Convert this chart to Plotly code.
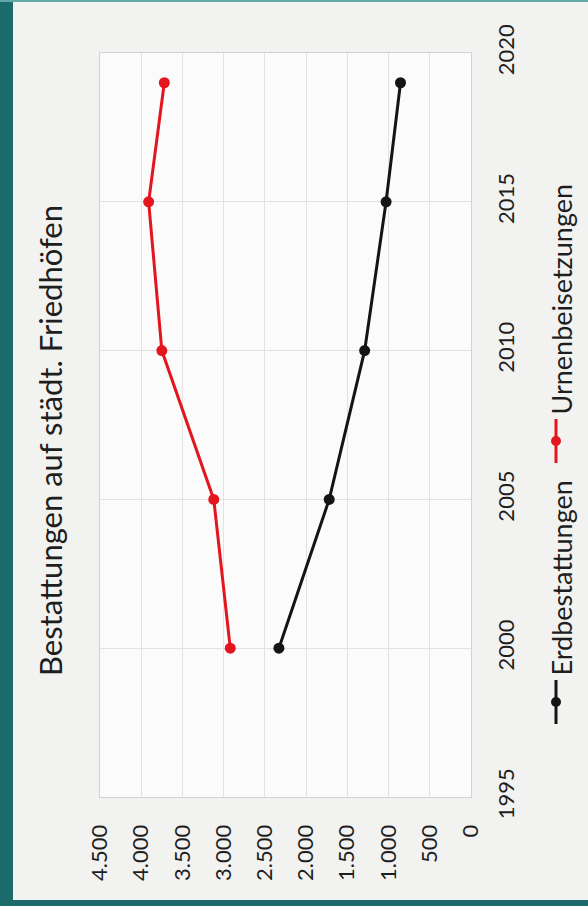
import plotly.graph_objects as go

# ---- data ----
years = [2000, 2005, 2010, 2015, 2019]
erdbestattungen = [2330, 1720, 1290, 1030, 855]
urnenbeisetzungen = [2920, 3120, 3750, 3910, 3720]
series_names = ["Erdbestattungen", "Urnenbeisetzungen"]
value_ticks = [0, 500, 1000, 1500, 2000, 2500, 3000, 3500, 4000, 4500]
year_ticks = [1995, 2000, 2005, 2010, 2015, 2020]
title_text = "Bestattungen auf städt. Friedhöfen"

# ---- geometry helpers (pixel -> paper) ----
W, H = 588, 906
ML, MR, MT, MB = 100, 117, 53, 109
PW, PH = W - ML - MR, H - MT - MB


def px_x(x):
    return (x - ML) / PW


def px_y(y):
    return 1 - (y - MT) / PH


FONT = "Lato, 'Open Sans', sans-serif"
TXT = "#1e1e1e"
RED = "#e3161f"
BLK = "#141414"

fig = go.Figure()
fig.add_trace(go.Scatter(
    x=erdbestattungen, y=years, mode="lines+markers", name=series_names[0],
    line=dict(color=BLK, width=3), marker=dict(color=BLK, size=11),
    showlegend=False))
fig.add_trace(go.Scatter(
    x=urnenbeisetzungen, y=years, mode="lines+markers", name=series_names[1],
    line=dict(color=RED, width=3), marker=dict(color=RED, size=11),
    showlegend=False))

shapes = [
    # photo border (teal)
    dict(type="rect", xref="paper", yref="paper", x0=px_x(0), x1=px_x(13),
         y0=px_y(H), y1=px_y(0), fillcolor="#1d6a6d", line=dict(width=0), layer="below"),
    dict(type="rect", xref="paper", yref="paper", x0=px_x(0), x1=px_x(W),
         y0=px_y(H), y1=px_y(900), fillcolor="#1d6a6d", line=dict(width=0), layer="below"),
    dict(type="rect", xref="paper", yref="paper", x0=px_x(0), x1=px_x(W),
         y0=px_y(2), y1=px_y(0), fillcolor="#5fa9a8", line=dict(width=0), layer="below"),
]

annotations = [
    dict(text=title_text, x=px_x(50), y=px_y(441), xref="paper", yref="paper",
         xanchor="center", yanchor="middle", textangle=-90, showarrow=False,
         font=dict(family=FONT, size=31, color=TXT)),
]

legend_items = [
    (series_names[0], BLK, 702),
    (series_names[1], RED, 441),
]
for name, col, ym in legend_items:
    shapes.append(dict(type="line", xref="paper", yref="paper",
                       x0=px_x(556), x1=px_x(556), y0=px_y(ym + 22), y1=px_y(ym - 22),
                       line=dict(color=col, width=3)))
    shapes.append(dict(type="circle", xref="paper", yref="paper",
                       xsizemode="pixel", ysizemode="pixel",
                       xanchor=px_x(556), yanchor=px_y(ym),
                       x0=-5, x1=5, y0=-5, y1=5, fillcolor=col, line=dict(color=col, width=0)))
    annotations.append(dict(text=name, x=px_x(561), y=px_y(ym - 24), xref="paper", yref="paper",
                            xanchor="center", yanchor="bottom", textangle=-90, showarrow=False,
                            font=dict(family=FONT, size=27, color=TXT)))

fig.update_layout(
    width=W, height=H, autosize=False,
    margin=dict(l=ML, r=MR, t=MT, b=MB, pad=0),
    paper_bgcolor="#f2f3f1", plot_bgcolor="#fbfbfb",
    separators=",.",
    showlegend=False,
    shapes=shapes, annotations=annotations,
    xaxis=dict(range=[4500, 0], tickvals=value_ticks, tickformat=",.0f",
               tickangle=-90, showgrid=True, gridcolor="#e2e2e2", gridwidth=1,
               zeroline=False, showline=True, linecolor="#d2d2d2", linewidth=1, mirror=True,
               ticks="", ticklabelstandoff=18,
               tickfont=dict(family=FONT, size=22, color=TXT)),
    yaxis=dict(range=[1995, 2020], tickvals=year_ticks, side="right",
               tickangle=-90, showgrid=True, gridcolor="#e2e2e2", gridwidth=1,
               zeroline=False, showline=True, linecolor="#d2d2d2", linewidth=1, mirror=True,
               ticks="", ticklabelstandoff=16,
               tickfont=dict(family=FONT, size=22, color=TXT)),
)

fig.write_html(
    "out.html",
    config={"displayModeBar": False},
    post_script="document.body.style.margin='0';document.body.style.overflow='hidden';",
)
